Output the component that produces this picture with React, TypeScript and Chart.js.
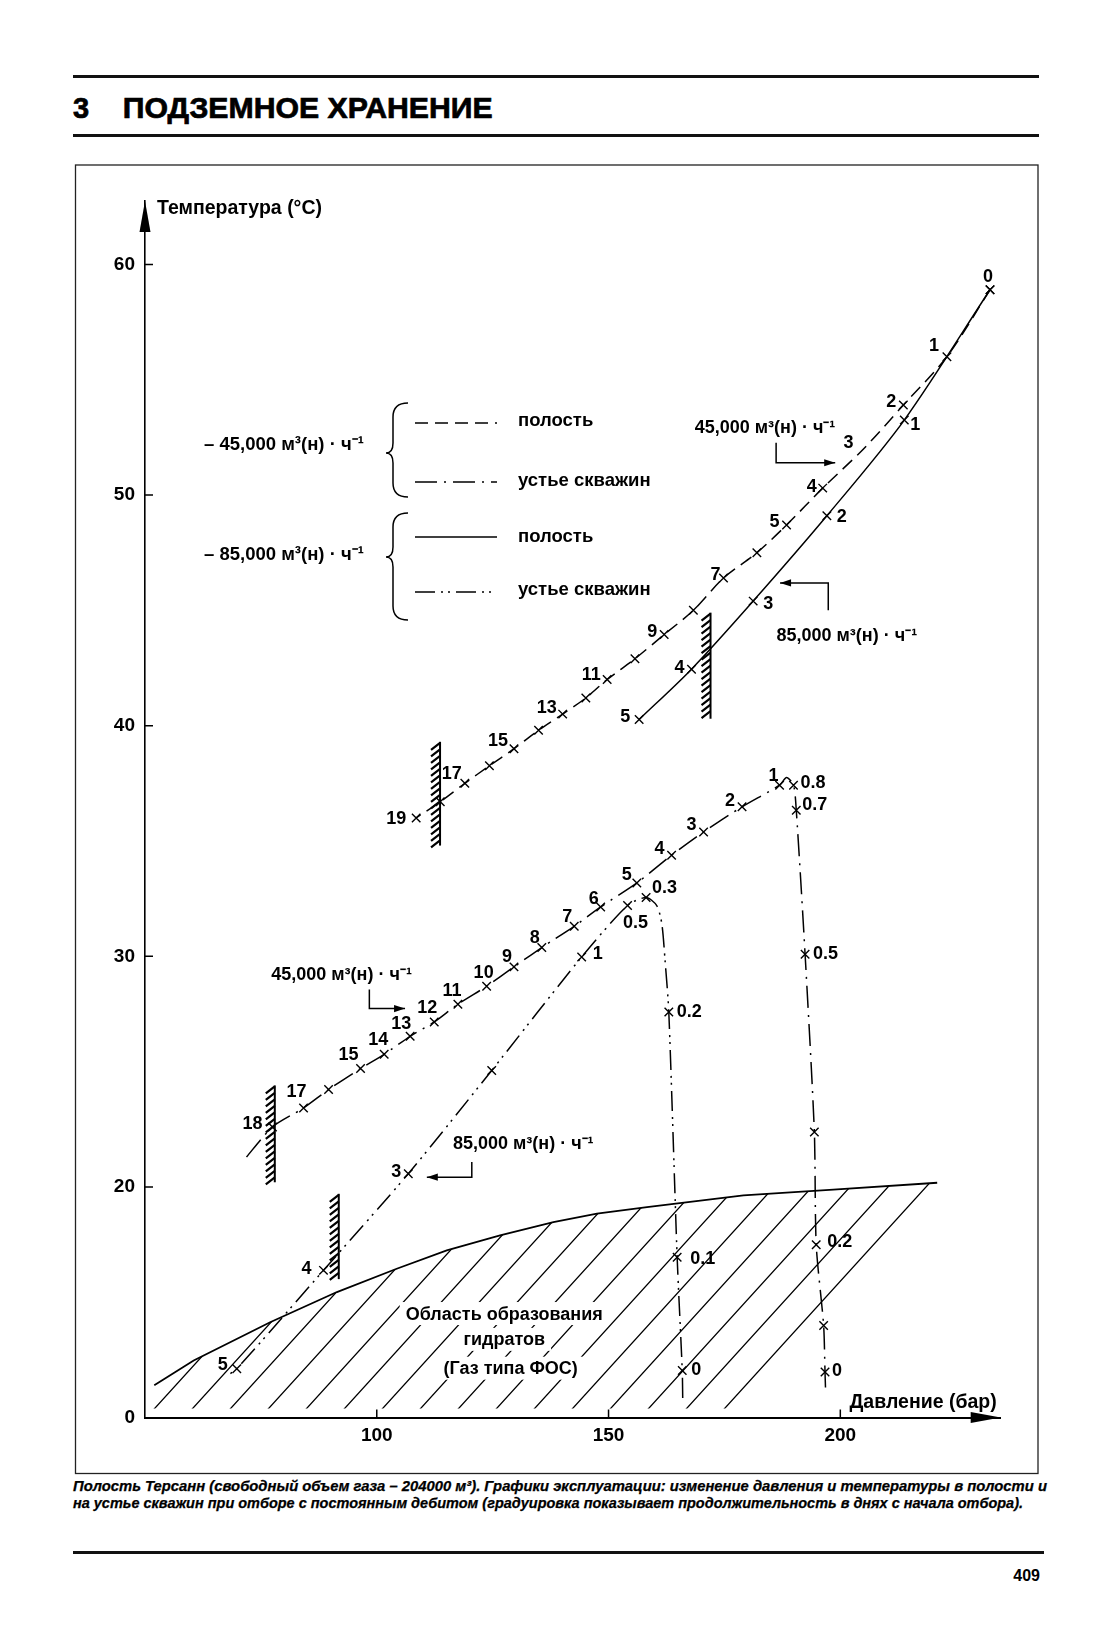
import React, { useEffect, useRef } from 'react';
import { Chart, registerables } from 'chart.js';

Chart.register(...registerables);

const FONT = '"Liberation Sans", Arial, Helvetica, sans-serif';

// ---------------- axes ----------------
const xTicks = [100, 150, 200];
const yTicks = [10, 20, 30, 40, 50, 60];
// the original prints "0" at the origin of the (broken) temperature axis
const yTickLabels = ['0', '20', '30', '40', '50', '60'];
const X_MIN = 50;
const X_MAX = 234.6;
const Y_MIN = 10;
const Y_MAX = 62.75;

// ---------------- hydrate formation boundary ----------------
const hydP = [52.0, 60.5, 77.0, 91.4, 104.3, 115.1, 126.6, 138.1, 147.5, 158.3, 179.1, 198.5, 220.9];
const hydT = [11.4, 12.47, 14.13, 15.44, 16.45, 17.25, 17.9, 18.47, 18.84, 19.12, 19.63, 19.88, 20.18];

// ---------------- cavity, 45,000 m3/h (dashed) ----------------
const cav45P = [232.3, 223.0, 213.6, 205.0, 196.2, 188.4, 182.0, 174.8, 168.3, 162.0, 155.7, 149.7, 145.1, 140.1, 134.9, 129.6, 124.3, 119.0, 113.7, 108.5];
const cav45T = [58.9, 56.0, 53.9, 52.0, 50.3, 48.7, 47.5, 46.4, 45.0, 43.95, 42.9, 42.0, 41.2, 40.5, 39.8, 39.0, 38.26, 37.5, 36.7, 36.0];
const cav45Label = ['0', '1', '2', '3', '4', '5', '', '7', '', '9', '', '11', '', '13', '', '15', '', '17', '', '19'];
const cav45Mark = [1, 1, 1, 0, 1, 1, 1, 1, 1, 1, 1, 1, 1, 1, 1, 1, 1, 1, 1, 1];

// ---------------- cavity, 85,000 m3/h (solid) ----------------
const cav85P = [232.3, 213.8, 197.1, 181.2, 167.9, 156.6];
const cav85T = [58.9, 53.25, 49.1, 45.4, 42.45, 40.27];
const cav85Label = ['', '1', '2', '3', '4', '5'];
const cav85Mark = [1, 1, 1, 1, 1, 1];

// ---------------- wellhead, 45,000 m3/h (dash-dot) ----------------
const wh45P = [196.8, 196.7, 196.4, 194.8, 194.4, 192.4, 190.5, 189.9, 188.4, 186.9, 178.8, 170.5, 163.6, 156.1, 148.3, 142.6, 135.6, 129.6, 123.7, 117.5, 112.4, 107.2, 101.6, 96.5, 89.6, 84.2, 77.5, 71.5];
const wh45T = [11.3, 11.97, 13.99, 17.49, 22.38, 30.09, 36.33, 37.42, 37.75, 37.42, 36.48, 35.39, 34.38, 33.18, 32.14, 31.3, 30.38, 29.54, 28.7, 27.92, 27.15, 26.53, 25.75, 25.13, 24.22, 23.42, 22.6, 21.2];
const wh45Label = ['', '0', '', '0.2', '', '0.5', '0.7', '0.8', '', '1', '2', '3', '4', '5', '6', '7', '8', '9', '10', '11', '12', '13', '14', '15', '', '17', '18', ''];
const wh45Mark = [0, 1, 1, 1, 1, 1, 1, 1, 0, 1, 1, 1, 1, 1, 1, 1, 1, 1, 1, 1, 1, 1, 1, 1, 1, 1, 1, 0];

// ---------------- wellhead, 85,000 m3/h (dash-dot-dot) ----------------
const wh85P = [166.0, 165.9, 164.8, 163.0, 162.2, 161.5, 160.4, 158.1, 154.1, 144.2, 124.8, 106.8, 88.5, 69.8, 67.4];
const wh85T = [10.85, 12.04, 16.95, 27.58, 29.8, 31.4, 32.2, 32.55, 32.2, 29.97, 25.05, 20.57, 16.38, 12.11, 11.77];
const wh85Label = ['', '0', '0.1', '0.2', '', '', '', '0.3', '0.5', '1', '', '3', '4', '5', ''];
const wh85Mark = [0, 1, 1, 1, 0, 0, 0, 1, 1, 1, 1, 1, 1, 1, 0];

// ---------------- hatched limit bars (pressure, T low, T high) ----------------
const barP = [113.65, 172.0, 78.0, 91.8];
const barTLow = [34.8, 40.3, 20.2, 16.0];
const barTHigh = [39.3, 44.9, 24.4, 19.7];

// ---------------- rate annotations ----------------
const RATE45 = '45,000 м³(н) · ч⁻¹';
const RATE85 = '85,000 м³(н) · ч⁻¹';
const noteText = [RATE45, RATE85, RATE45, RATE85];
const noteP = [183.76, 201.4, 92.4, 131.6];
const noteT = [52.96, 43.94, 29.25, 21.94];
const notePathP = [[186.15, 186.15, 198.9], [197.4, 197.4, 187.0], [98.4, 98.4, 106.1], [120.5, 120.5, 110.8]];
const notePathT = [[52.27, 51.4, 51.4], [45.0, 46.19, 46.19], [28.56, 27.73, 27.73], [21.08, 20.42, 20.42]];

// hydrate-zone caption
const zoneText = ['Область образования', 'гидратов', '(Газ типа ФОС)'];
const zoneP = [127.5, 127.5, 128.9];
const zoneT = [14.53, 13.41, 12.16];

// ---------------- label placement (align, dx px, dy px) ----------------
type LP = [string, number, number] | null;
const cav45LabelPos: LP[] = [
  ['c', -2, -14], ['c', -13, -12], ['c', -12, -5], ['c', -15, -7], ['c', -11, -3], ['c', -12, -4], null,
  ['c', -8, -5], null, ['c', -12, -4], null, ['c', -16, -6], null, ['c', -16, -8], null, ['c', -16, -9], null,
  ['c', -13, -11], null, ['c', -20, 0],
];
const cav85LabelPos: LP[] = [null, ['c', 11, 3], ['c', 15, 0], ['c', 15, 1], ['c', -12, -3], ['c', -14, -4]];
const wh45LabelPos: LP[] = [
  null, ['l', 7, -3], null, ['l', 11, -4], null, ['l', 8, -2], ['l', 6, -7], ['l', 7, -4], null, ['c', -6, -11],
  ['c', -12, -7], ['c', -12, -8], ['c', -12, -8], ['c', -10, -9], ['c', -7, -9], ['c', -7, -11], ['c', -7, -11],
  ['c', -7, -11], ['c', -3, -15], ['c', -6, -15], ['c', -7, -15], ['c', -9, -14], ['c', -6, -16], ['c', -12, -15],
  null, ['c', -7, -17], ['r', -10, -4], null,
];
const wh85LabelPos: LP[] = [
  null, ['l', 9, -2], ['l', 13, 0], ['l', 8, -2], null, null, null, ['l', 6, -11], ['c', 8, 16], ['l', 11, -4],
  null, ['r', -7, -3], ['r', -12, -3], ['r', -9, -5], null,
];

// ---------------- styles ----------------
const DASH_CAV45 = [13, 7];
const DASH_WH45 = [22, 7, 2, 7];
const DASH_WH85 = [20, 6, 2, 5, 2, 6];
const HATCH_SLOPE = 1.1;
const HATCH_GAP = 38;
const HATCH_BASE_T = 10.39;
const HATCH_START_P = 51.68;

const pts = (P: number[], T: number[]) => P.map((p, i) => ({ x: p, y: T[i] }));

function txt(ctx: CanvasRenderingContext2D, s: string, x: number, cy: number, align: CanvasTextAlign, size = 18) {
  ctx.font = `bold ${size}px ${FONT}`;
  ctx.textAlign = align;
  ctx.textBaseline = 'alphabetic';
  ctx.fillStyle = '#000';
  ctx.fillText(s, x, cy + size * 0.36);
}

function arrowHead(ctx: CanvasRenderingContext2D, x0: number, y0: number, x1: number, y1: number) {
  const a = Math.atan2(y1 - y0, x1 - x0);
  const L = 11, W = 3.6;
  ctx.beginPath();
  ctx.moveTo(x1, y1);
  ctx.lineTo(x1 - L * Math.cos(a) + W * Math.sin(a), y1 - L * Math.sin(a) - W * Math.cos(a));
  ctx.lineTo(x1 - L * Math.cos(a) - W * Math.sin(a), y1 - L * Math.sin(a) + W * Math.cos(a));
  ctx.closePath();
  ctx.fill();
}

function brace(ctx: CanvasRenderingContext2D, x: number, top: number, bot: number, mid: number) {
  const w = 15;
  ctx.beginPath();
  ctx.moveTo(x + w, top);
  ctx.quadraticCurveTo(x, top, x, top + 14);
  ctx.lineTo(x, mid - 10);
  ctx.quadraticCurveTo(x, mid, x - 7, mid);
  ctx.quadraticCurveTo(x, mid, x, mid + 10);
  ctx.lineTo(x, bot - 14);
  ctx.quadraticCurveTo(x, bot, x + w, bot);
  ctx.stroke();
}

function drawLabels(chart: any, P: number[], T: number[], L: string[], pos: LP[]) {
  const ctx = chart.ctx;
  const xs = chart.scales.x, ys = chart.scales.y;
  L.forEach((s, i) => {
    const lp = pos[i];
    if (!s || !lp) return;
    const align: CanvasTextAlign = lp[0] === 'l' ? 'left' : lp[0] === 'r' ? 'right' : 'center';
    txt(ctx, s, xs.getPixelForValue(P[i]) + lp[1], ys.getPixelForValue(T[i]) + lp[2], align);
  });
}

const figurePlugin = {
  id: 'figure',
  beforeDatasetsDraw(chart: any) {
    const ctx: CanvasRenderingContext2D = chart.ctx;
    const xs = chart.scales.x, ys = chart.scales.y;
    const X = (v: number) => xs.getPixelForValue(v);
    const Y = (v: number) => ys.getPixelForValue(v);
    const n = hydP.length;
    const yb = Y(HATCH_BASE_T);
    const ex = X(hydP[n - 1]), ey = Y(hydT[n - 1]);
    ctx.save();
    ctx.beginPath();
    ctx.moveTo(X(hydP[0]), Y(hydT[0]));
    for (let i = 1; i < n; i++) ctx.lineTo(X(hydP[i]), Y(hydT[i]));
    ctx.lineTo(ex - (yb - ey) / HATCH_SLOPE, yb);
    ctx.lineTo(chart.chartArea.left, yb);
    ctx.lineTo(chart.chartArea.left, Y(hydT[0]));
    ctx.closePath();
    ctx.clip();
    ctx.strokeStyle = '#000';
    ctx.lineWidth = 1.3;
    ctx.beginPath();
    for (let x = X(HATCH_START_P); x < ex + 5; x += HATCH_GAP) {
      ctx.moveTo(x, yb + 2);
      ctx.lineTo(x + 320 / HATCH_SLOPE, yb + 2 - 320);
    }
    ctx.stroke();
    ctx.restore();

    // caption inside the hydrate zone, on white
    ctx.save();
    ctx.font = `bold 18px ${FONT}`;
    zoneText.forEach((s, i) => {
      const w = ctx.measureText(s).width;
      const cx = X(zoneP[i]), cy = Y(zoneT[i]);
      ctx.fillStyle = '#fff';
      ctx.fillRect(cx - w / 2 - 6, cy - 11, w + 12, 23);
    });
    zoneText.forEach((s, i) => txt(ctx, s, X(zoneP[i]), Y(zoneT[i]), 'center'));
    ctx.restore();
  },
  afterDatasetsDraw(chart: any) {
    const ctx: CanvasRenderingContext2D = chart.ctx;
    const xs = chart.scales.x, ys = chart.scales.y;
    const X = (v: number) => xs.getPixelForValue(v);
    const Y = (v: number) => ys.getPixelForValue(v);
    ctx.save();
    ctx.strokeStyle = '#000';
    ctx.fillStyle = '#000';

    // hatched limit bars
    barP.forEach((p, i) => {
      const x = X(p), y1 = Y(barTHigh[i]), y2 = Y(barTLow[i]);
      ctx.lineWidth = 2;
      ctx.beginPath();
      ctx.moveTo(x, y1);
      ctx.lineTo(x, y2);
      ctx.stroke();
      ctx.lineWidth = 2.2;
      ctx.beginPath();
      for (let y = y1 + 1; y < y2 - 4; y += 6.5) {
        ctx.moveTo(x, y);
        ctx.lineTo(x - 9, y + 7);
      }
      ctx.stroke();
    });

    // day labels
    drawLabels(chart, cav45P, cav45T, cav45Label, cav45LabelPos);
    drawLabels(chart, cav85P, cav85T, cav85Label, cav85LabelPos);
    drawLabels(chart, wh45P, wh45T, wh45Label, wh45LabelPos);
    drawLabels(chart, wh85P, wh85T, wh85Label, wh85LabelPos);

    // rate notes with arrows
    noteText.forEach((s, i) => {
      txt(ctx, s, X(noteP[i]), Y(noteT[i]), 'center');
      const pp = notePathP[i], tt = notePathT[i];
      ctx.lineWidth = 1.5;
      ctx.setLineDash([]);
      ctx.beginPath();
      ctx.moveTo(X(pp[0]), Y(tt[0]));
      for (let k = 1; k < pp.length; k++) ctx.lineTo(X(pp[k]), Y(tt[k]));
      ctx.stroke();
      const m = pp.length - 1;
      arrowHead(ctx, X(pp[m - 1]), Y(tt[m - 1]), X(pp[m]), Y(tt[m]));
    });

    // legend
    txt(ctx, '– 45,000 м³(н) · ч⁻¹', 204, 443, 'left', 18.5);
    txt(ctx, '– 85,000 м³(н) · ч⁻¹', 204, 553, 'left', 18.5);
    ctx.lineWidth = 1.5;
    brace(ctx, 393, 403, 497, 453);
    brace(ctx, 393, 513, 620, 557);
    const legendRows: [number, number[]][] = [[423, DASH_CAV45], [482, DASH_WH45], [537, []], [592, DASH_WH85]];
    legendRows.forEach(([y, d]) => {
      ctx.setLineDash(d);
      ctx.beginPath();
      ctx.moveTo(415, y);
      ctx.lineTo(497, y);
      ctx.stroke();
    });
    ctx.setLineDash([]);
    txt(ctx, 'полость', 518, 419, 'left', 18.5);
    txt(ctx, 'устье скважин', 518, 479, 'left', 18.5);
    txt(ctx, 'полость', 518, 535, 'left', 18.5);
    txt(ctx, 'устье скважин', 518, 588, 'left', 18.5);
    ctx.restore();
  },
  afterDraw(chart: any) {
    const ctx: CanvasRenderingContext2D = chart.ctx;
    const { left, right, top, bottom } = chart.chartArea;
    const xs = chart.scales.x, ys = chart.scales.y;
    ctx.save();
    ctx.fillStyle = '#000';
    ctx.strokeStyle = '#000';
    // arrow heads on the axes
    ctx.beginPath();
    ctx.moveTo(left, top);
    ctx.lineTo(left - 5.5, top + 31);
    ctx.lineTo(left + 5.5, top + 31);
    ctx.closePath();
    ctx.fill();
    ctx.beginPath();
    ctx.moveTo(right, bottom);
    ctx.lineTo(right - 30, bottom - 5.5);
    ctx.lineTo(right - 30, bottom + 5.5);
    ctx.closePath();
    ctx.fill();
    // inward tick marks
    ctx.lineWidth = 1.5;
    ctx.beginPath();
    yTicks.forEach((v) => {
      if (v === Y_MIN) return;
      const y = ys.getPixelForValue(v);
      ctx.moveTo(left, y);
      ctx.lineTo(left + 8, y);
    });
    xTicks.forEach((v) => {
      const x = xs.getPixelForValue(v);
      ctx.moveTo(x, bottom);
      ctx.lineTo(x, bottom - 8);
    });
    ctx.stroke();
    // axis titles
    txt(ctx, 'Температура (°C)', left + 12, top + 6, 'left', 19.5);
    txt(ctx, 'Давление (бар)', right - 4, bottom - 17, 'right', 19.5);
    ctx.restore();
  },
};

function makeLine(P: number[], T: number[], mark: number[], dash: number[], tension = 0.3) {
  return {
    data: pts(P, T),
    showLine: true,
    borderColor: '#000',
    borderWidth: 1.5,
    borderDash: dash,
    tension,
    pointStyle: 'crossRot',
    pointRadius: mark.map((m) => (m ? 6 : 0)),
    pointBorderWidth: 1.4,
    pointBorderColor: '#000',
    pointBackgroundColor: '#000',
  };
}

export default function App() {
  const ref = useRef<HTMLCanvasElement>(null);
  useEffect(() => {
    if (!ref.current) return;
    const tickFont = { family: FONT, size: 19, weight: 'bold' as const };
    const chart = new Chart(ref.current, {
      type: 'scatter',
      data: {
        datasets: [
          {
            label: 'Область образования гидратов',
            data: pts(hydP, hydT),
            showLine: true,
            borderColor: '#000',
            borderWidth: 1.8,
            pointRadius: 0,
            tension: 0,
          } as any,
          { label: 'полость 45,000', ...makeLine(cav45P, cav45T, cav45Mark, DASH_CAV45) } as any,
          { label: 'полость 85,000', ...makeLine(cav85P, cav85T, cav85Mark, []) } as any,
          { label: 'устье скважин 45,000', ...makeLine(wh45P, wh45T, wh45Mark, DASH_WH45, 0.25) } as any,
          { label: 'устье скважин 85,000', ...makeLine(wh85P, wh85T, wh85Mark, DASH_WH85, 0.25) } as any,
        ],
      },
      options: {
        responsive: false,
        animation: false,
        devicePixelRatio: 1,
        layout: { padding: { left: 60, top: 201, right: 115.3, bottom: 186.5 } },
        plugins: { legend: { display: false }, tooltip: { enabled: false } },
        scales: {
          x: {
            type: 'linear',
            min: X_MIN,
            max: X_MAX,
            afterBuildTicks: (s: any) => {
              s.ticks = xTicks.map((v) => ({ value: v }));
            },
            afterFit: (s: any) => {
              s.height = 40;
            },
            grid: { display: false, drawTicks: false },
            border: { display: true, color: '#000', width: 2 },
            ticks: { color: '#000', font: tickFont, padding: 7, maxRotation: 0, autoSkip: false },
          },
          y: {
            type: 'linear',
            min: Y_MIN,
            max: Y_MAX,
            afterBuildTicks: (s: any) => {
              s.ticks = yTicks.map((v) => ({ value: v }));
            },
            afterFit: (s: any) => {
              s.width = 85;
            },
            grid: { display: false, drawTicks: false },
            border: { display: true, color: '#000', width: 1.6 },
            ticks: {
              color: '#000',
              font: tickFont,
              padding: 10,
              autoSkip: false,
              callback: (_v: any, i: number) => yTickLabels[i],
            },
          },
        },
      } as any,
      plugins: [figurePlugin],
    });
    return () => chart.destroy();
  }, []);

  const ff = FONT;
  return (
    <div style={{ position: 'absolute', left: 0, top: 0, width: 1116, height: 1644, background: '#fff' }}>
      <svg width={1116} height={1644} style={{ position: 'absolute', left: 0, top: 0 }}>
        <rect x={73} y={75} width={966} height={3} fill="#111" />
        <text x={73} y={118} fontFamily={ff} fontWeight="bold" fontSize={29} fill="#000" stroke="#000" strokeWidth={0.7}>
          3
        </text>
        <text x={122.7} y={118} fontFamily={ff} fontWeight="bold" fontSize={29} fill="#000" stroke="#000" strokeWidth={0.7} textLength={370} lengthAdjust="spacingAndGlyphs">
          ПОДЗЕМНОЕ ХРАНЕНИЕ
        </text>
        <rect x={73} y={134} width={966} height={3} fill="#111" />
        <rect x={75.5} y={165} width={962.5} height={1308.5} fill="none" stroke="#222" strokeWidth={1.3} />
        <text x={73} y={1491} fontFamily={ff} fontStyle="italic" fontWeight="bold" fontSize={14} fill="#000" stroke="#000" strokeWidth={0.25} textLength={974} lengthAdjust="spacingAndGlyphs">
          Полость Терсанн (свободный объем газа – 204000 м³). Графики эксплуатации: изменение давления и температуры в полости и
        </text>
        <text x={73} y={1508} fontFamily={ff} fontStyle="italic" fontWeight="bold" fontSize={14} fill="#000" stroke="#000" strokeWidth={0.25} textLength={950} lengthAdjust="spacingAndGlyphs">
          на устье скважин при отборе с постоянным дебитом (градуировка показывает продолжительность в днях с начала отбора).
        </text>
        <rect x={73} y={1551} width={971} height={3} fill="#111" />
        <text x={1040} y={1581} fontFamily={ff} fontWeight="bold" fontSize={16} fill="#000" textAnchor="end">
          409
        </text>
      </svg>
      <canvas ref={ref} width={1116} height={1644} style={{ position: 'absolute', left: 0, top: 0 }} />
    </div>
  );
}
